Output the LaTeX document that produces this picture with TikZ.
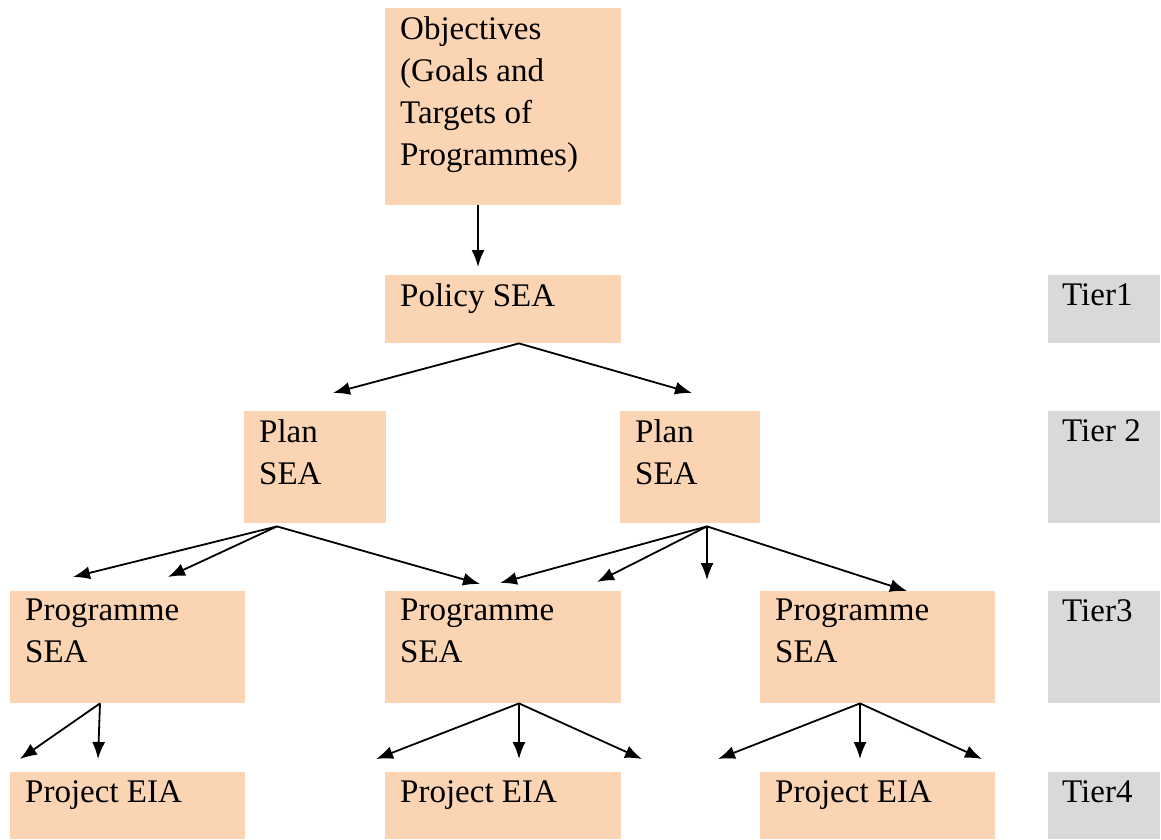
\documentclass[tikz,border=0pt]{standalone}
\usepackage{fontspec}
\setmainfont{Liberation Serif}
\usetikzlibrary{arrows.meta}

\definecolor{peach}{HTML}{FBD4B4}
\definecolor{tiergray}{HTML}{D9D9D9}

\tikzset{
  sea/.style={fill=peach, anchor=north west, inner sep=0pt},
  tier/.style={fill=tiergray, anchor=north west, inner sep=0pt},
  lbl/.style={anchor=north west, inner sep=0pt, align=left,
    font=\fontsize{33}{42}\selectfont, xshift=15pt, yshift=-8pt},
  arr/.style={-{Latex[length=17pt,width=13pt]}, line width=1.8pt},
}

\begin{document}
\begin{tikzpicture}[x=1pt, y=-1pt]
\useasboundingbox (0,0) rectangle (1161,839);

% boxes
\node[sea, minimum width=236pt, minimum height=197pt] (obj) at (385,8) {};
\node[sea, minimum width=236pt, minimum height=68pt] (pol) at (385,275) {};
\node[sea, minimum width=142pt, minimum height=112pt] (planA) at (244,411) {};
\node[sea, minimum width=140pt, minimum height=112pt] (planB) at (620,411) {};
\node[sea, minimum width=235pt, minimum height=112pt] (progA) at (10,591) {};
\node[sea, minimum width=236pt, minimum height=112pt] (progB) at (385,591) {};
\node[sea, minimum width=235pt, minimum height=112pt] (progC) at (760,591) {};
\node[sea, minimum width=235pt, minimum height=67pt] (projA) at (10,772) {};
\node[sea, minimum width=236pt, minimum height=67pt] (projB) at (385,772) {};
\node[sea, minimum width=235pt, minimum height=67pt] (projC) at (760,772) {};

\node[tier, minimum width=112pt, minimum height=68pt] (t1) at (1048,275) {};
\node[tier, minimum width=112pt, minimum height=112pt] (t2) at (1048,411) {};
\node[tier, minimum width=112pt, minimum height=112pt] (t3) at (1048,591) {};
\node[tier, minimum width=112pt, minimum height=67pt] (t4) at (1048,772) {};

% texts
\node[lbl] (objtxt) at (obj.north west) {Objectives\\(Goals and\\Targets of\\Programmes)};
\node[lbl] (poltxt) at (pol.north west) {Policy SEA};
\node[lbl] (planAtxt) at (planA.north west) {Plan\\SEA};
\node[lbl] (planBtxt) at (planB.north west) {Plan\\SEA};
\node[lbl] (progAtxt) at (progA.north west) {Programme\\SEA};
\node[lbl] (progBtxt) at (progB.north west) {Programme\\SEA};
\node[lbl] (progCtxt) at (progC.north west) {Programme\\SEA};
\node[lbl] (projAtxt) at (projA.north west) {Project EIA};
\node[lbl] (projBtxt) at (projB.north west) {Project EIA};
\node[lbl] (projCtxt) at (projC.north west) {Project EIA};
\node[lbl, xshift=-1pt] (t1txt) at (t1.north west) {Tier1};
\node[lbl, xshift=-1pt] (t2txt) at (t2.north west) {Tier 2};
\node[lbl, xshift=-1pt] (t3txt) at (t3.north west) {Tier3};
\node[lbl, xshift=-1pt] (t4txt) at (t4.north west) {Tier4};

% arrow starts
\coordinate (objout) at ([xshift=93pt]obj.south west);
\coordinate (polout) at ([xshift=134pt]pol.south west);
\coordinate (planAout) at ([xshift=33pt, yshift=-3pt]planA.south west);
\coordinate (planBout) at ([xshift=87pt, yshift=-3pt]planB.south west);
\coordinate (progAout) at ([xshift=90pt]progA.south west);
\coordinate (progBout) at ([xshift=134pt]progB.south west);
\coordinate (progCout) at ([xshift=100pt]progC.south west);

% arrow ends
\coordinate (e0) at (478,267);
\coordinate (e1) at (333,393);
\coordinate (e2) at (692,393);
\coordinate (e3) at (73,577);
\coordinate (e4) at (168,577);
\coordinate (e5) at (480,584);
\coordinate (e6) at (500,583);
\coordinate (e7) at (597,582);
\coordinate (e8) at (707,580);
\coordinate (e9) at (907,591);
\coordinate (e10) at (20,759);
\coordinate (e11) at (98,759);
\coordinate (e12) at (376,759);
\coordinate (e13) at (519,759);
\coordinate (e14) at (642,759);
\coordinate (e15) at (718,759);
\coordinate (e16) at (860,759);
\coordinate (e17) at (982,759);

% arrows
\draw[arr] (objout) -- (e0);
\draw[arr] (polout) -- (e1);
\draw[arr] (polout) -- (e2);
\foreach \e in {e3,e4,e5} \draw[arr] (planAout) -- (\e);
\foreach \e in {e6,e7,e8,e9} \draw[arr] (planBout) -- (\e);
\foreach \e in {e10,e11} \draw[arr] (progAout) -- (\e);
\foreach \e in {e12,e13,e14} \draw[arr] (progBout) -- (\e);
\foreach \e in {e15,e16,e17} \draw[arr] (progCout) -- (\e);

\end{tikzpicture}
\end{document}
